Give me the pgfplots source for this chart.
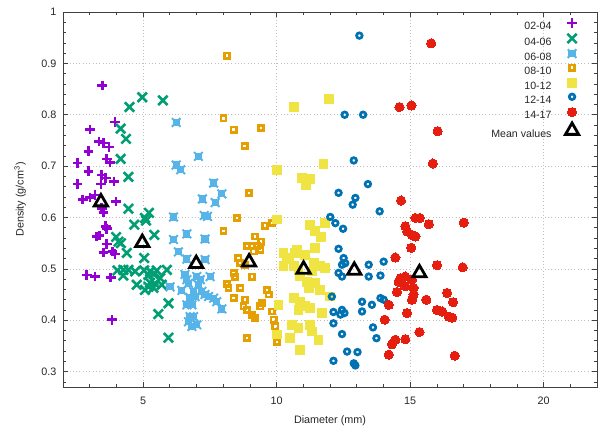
\documentclass[border=0pt]{standalone}
\usepackage{fontspec}
\setmainfont{Liberation Sans}
\usepackage{pgfplots}
\pgfplotsset{compat=1.18}
\usetikzlibrary{calc}
\definecolor{cP}{HTML}{9400D3}
\definecolor{cG}{HTML}{009E73}
\definecolor{cC}{HTML}{56B4E9}
\definecolor{cO}{HTML}{E69F00}
\definecolor{cY}{HTML}{F0E442}
\definecolor{cB}{HTML}{0072B2}
\definecolor{cR}{HTML}{E51E10}
\pgfdeclareplotmark{sqx}{%
  \pgfpathrectangle{\pgfqpoint{-\pgfplotmarksize}{-\pgfplotmarksize}}{\pgfqpoint{2\pgfplotmarksize}{2\pgfplotmarksize}}%
  \pgfusepathqfill
  \pgfpathmoveto{\pgfqpoint{-1.2\pgfplotmarksize}{-1.2\pgfplotmarksize}}%
  \pgfpathlineto{\pgfqpoint{1.2\pgfplotmarksize}{1.2\pgfplotmarksize}}%
  \pgfpathmoveto{\pgfqpoint{-1.2\pgfplotmarksize}{1.2\pgfplotmarksize}}%
  \pgfpathlineto{\pgfqpoint{1.2\pgfplotmarksize}{-1.2\pgfplotmarksize}}%
  \pgfusepathqstroke}
\begin{document}
\fontsize{10.8}{13}\selectfont
\begin{tikzpicture}
\begin{axis}[name=ax, scale only axis, width=534pt, height=375pt,
  xmin=2, xmax=22, ymin=0.27, ymax=1,
  xtick={5,10,15,20}, ytick={0.3,0.4,0.5,0.6,0.7,0.8,0.9,1},
  minor xtick={3,4,6,7,8,9,11,12,13,14,16,17,18,19,21},
  minor ytick={0.28,0.32,0.34,0.36,0.38,0.42,0.44,0.46,0.48,0.52,0.54,0.56,0.58,0.62,0.64,0.66,0.68,0.72,0.74,0.76,0.78,0.82,0.84,0.86,0.88,0.92,0.94,0.96,0.98},
  /pgf/number format/assume math mode=true,
  tick label style={font=\fontsize{10.8}{13}\selectfont, text=black!85},
  xticklabel style={yshift=-6pt},
  yticklabel style={xshift=-2.7pt},
  xlabel={Diameter (mm)}, ylabel={Density (g/cm\textsuperscript{3})},
  label style={font=\fontsize{10.8}{13}\selectfont, text=black!85},
  xlabel style={at={(axis description cs:0.5,-0.0893)}, anchor=center},
  ylabel style={at={(axis description cs:-0.0805,0.5)}, anchor=center},
  axis line style={black!75, line width=0.9pt},
  every tick/.style={black!75, line width=0.6pt},
  major tick length=5pt, minor tick length=3pt,
  grid=major, major grid style={black!25, line width=0.5pt, dash pattern=on 0.8pt off 2.5pt},
  legend plot pos=right, legend cell align=right,
  legend image code/.code={\draw[#1] plot coordinates {(0pt,3.8pt)};},
  legend style={at={(rel axis cs:0.966,0.984)}, anchor=north east, draw=none, fill=none,
    inner sep=0pt, row sep=0pt, column sep=14pt, font=\fontsize{10.6}{13}\selectfont,
    text=black!85, nodes={inner sep=0pt, text height=10pt, text depth=4pt}},
]
\addplot[only marks, mark=+, color=cP, mark options={mark size=4.8pt, line width=2.6pt}] coordinates {
(3.47,0.857) (3.95,0.786) (3.01,0.771) (3.35,0.748) (3.51,0.745) (3.72,0.737) (2.95,0.729)
(2.55,0.706) (3.64,0.714) (3.76,0.707) (2.95,0.690) (3.45,0.683) (3.60,0.677) (2.55,0.665)
(3.42,0.665) (3.91,0.670) (2.74,0.635) (3.01,0.639) (3.20,0.644) (3.99,0.631) (3.45,0.618)
(3.51,0.610) (3.60,0.583) (3.64,0.578) (3.26,0.563) (3.36,0.565) (3.64,0.548) (3.51,0.532)
(3.86,0.534) (3.95,0.529) (2.89,0.488) (3.20,0.485) (3.79,0.483) (3.83,0.401)
};
\addlegendentry{02-04}
\addplot[only marks, mark=x, color=cG, mark options={mark size=6.6pt, line width=2.6pt}] coordinates {
(4.97,0.834) (5.74,0.828) (4.49,0.815) (4.16,0.773) (4.36,0.753) (4.16,0.714) (4.45,0.679)
(4.45,0.617) (5.22,0.609) (5.07,0.599) (5.11,0.594) (4.67,0.586) (5.42,0.566) (3.99,0.562)
(4.08,0.553) (4.17,0.550) (4.39,0.531) (5.04,0.521) (4.04,0.497) (4.26,0.498) (4.45,0.498)
(4.70,0.495) (4.26,0.487) (5.04,0.497) (5.26,0.495) (5.39,0.490) (5.20,0.488) (5.89,0.498)
(5.64,0.482) (4.76,0.469) (5.26,0.473) (5.45,0.471) (5.07,0.459) (5.70,0.469) (5.20,0.465)
(5.39,0.463) (5.95,0.433) (5.57,0.412) (5.95,0.366) (5.51,0.497)
};
\addlegendentry{04-06}
\addplot[only marks, mark=sqx, color=cC, mark options={mark size=3.6pt, line width=2pt}] coordinates {
(6.24,0.785) (6.24,0.702) (6.41,0.693) (7.07,0.719) (7.64,0.667) (7.95,0.646) (7.22,0.636)
(7.70,0.629) (7.29,0.604) (7.41,0.602) (6.14,0.601) (6.64,0.568) (6.14,0.557) (7.32,0.558)
(6.32,0.533) (6.64,0.519) (7.32,0.518) (6.57,0.489) (6.64,0.479) (6.70,0.472) (7.01,0.485)
(7.14,0.479) (7.07,0.469) (7.51,0.485) (6.01,0.465) (6.45,0.458) (6.89,0.456) (6.95,0.446)
(7.32,0.450) (7.45,0.446) (7.64,0.443) (7.76,0.436) (7.95,0.422) (6.64,0.430) (6.83,0.430)
(6.76,0.407) (6.70,0.397) (6.83,0.388) (7.01,0.391) (7.20,0.456) (6.76,0.444) (6.89,0.407)
};
\addlegendentry{06-08}
\addplot[only marks, mark=square, color=cO, mark options={mark size=2.6pt, line width=2.7pt}] coordinates {
(8.14,0.915) (8.01,0.793) (8.39,0.771) (9.42,0.774) (8.80,0.739) (8.97,0.648) (8.51,0.599)
(8.01,0.574) (9.57,0.584) (9.82,0.589) (9.20,0.563) (9.41,0.553) (8.89,0.544) (9.07,0.544)
(9.26,0.544) (9.14,0.534) (9.39,0.537) (8.57,0.521) (8.64,0.511) (8.82,0.508) (8.39,0.492)
(8.45,0.485) (9.07,0.485) (8.14,0.470) (8.20,0.463) (8.64,0.463) (8.39,0.443) (8.82,0.440)
(8.76,0.427) (8.89,0.420) (9.07,0.410) (9.20,0.404) (9.64,0.459) (9.70,0.450) (9.45,0.433)
(9.39,0.427) (9.82,0.417) (9.89,0.401) (9.95,0.388) (10.01,0.358) (8.89,0.365)
};
\addlegendentry{08-10}
\addplot[only marks, mark=square*, color=cY, mark options={mark size=4.4pt, line width=0pt}] coordinates {
(10.64,0.815) (11.95,0.830) (10.01,0.692) (11.76,0.704) (10.95,0.677) (11.26,0.675) (11.11,0.664)
(10.01,0.596) (11.26,0.586) (11.45,0.573) (11.82,0.589) (10.26,0.531) (10.70,0.531) (10.45,0.518)
(10.64,0.505) (10.26,0.505) (11.07,0.527) (11.39,0.511) (11.33,0.495) (11.64,0.505) (11.82,0.502)
(10.89,0.485) (11.14,0.475) (11.45,0.472) (11.20,0.463) (11.64,0.459) (10.64,0.443) (10.89,0.436)
(11.07,0.427) (10.82,0.420) (11.26,0.424) (10.07,0.430) (11.70,0.414) (10.58,0.391) (10.82,0.385)
(11.26,0.391) (11.33,0.378) (10.01,0.372) (10.51,0.365) (11.57,0.362) (10.89,0.342) (12.01,0.446)
(11.45,0.541) (10.39,0.521) (10.76,0.537) (10.82,0.498) (11.67,0.562)
};
\addlegendentry{10-12}
\addplot[only marks, mark=o, color=cB, mark options={mark size=2.8pt, line width=2.7pt}] coordinates {
(13.10,0.954) (12.55,0.800) (13.24,0.800) (12.89,0.711) (13.42,0.665) (12.32,0.648) (12.95,0.638)
(12.85,0.625) (13.86,0.612) (12.01,0.601) (12.20,0.589) (12.49,0.578) (12.32,0.539) (12.51,0.521)
(12.57,0.511) (12.45,0.508) (12.32,0.492) (12.45,0.485) (13.45,0.508) (14.01,0.514) (13.45,0.485)
(13.89,0.487) (12.07,0.446) (13.20,0.436) (13.57,0.430) (13.89,0.443) (14.01,0.440) (12.13,0.416)
(12.45,0.420) (12.54,0.414) (12.39,0.411) (13.20,0.417) (12.13,0.394) (13.61,0.386) (12.45,0.373)
(13.74,0.365) (12.64,0.339) (13.03,0.338) (12.13,0.321) (12.89,0.316) (12.95,0.312)
};
\addlegendentry{12-14}
\addplot[only marks, mark=*, color=cR, mark options={mark size=4.6pt, line width=0pt}] coordinates {
(15.79,0.939) (14.60,0.815) (15.05,0.818) (16.03,0.768) (15.85,0.705) (14.66,0.633) (17.01,0.590)
(15.20,0.599) (15.36,0.599) (15.70,0.587) (14.82,0.583) (14.89,0.573) (15.07,0.566) (15.20,0.563)
(15.04,0.541) (14.45,0.522) (16.01,0.507) (16.97,0.503) (14.64,0.482) (14.82,0.485) (15.07,0.479)
(14.57,0.475) (14.82,0.466) (15.13,0.463) (14.51,0.455) (15.13,0.450) (16.39,0.453) (14.20,0.430)
(15.07,0.440) (15.61,0.440) (16.61,0.435) (16.01,0.420) (16.20,0.417) (14.89,0.414) (16.45,0.407)
(16.58,0.405) (14.05,0.401) (15.35,0.377) (14.45,0.362) (14.82,0.363) (14.32,0.353) (14.20,0.333)
(16.67,0.331)
};
\addlegendentry{14-17}
\addplot[only marks, mark=triangle, color=black, mark options={mark size=7.6pt, line width=2.8pt}] coordinates {
(3.42,0.630) (4.97,0.551) (6.99,0.510) (8.97,0.513) (11.01,0.499) (12.91,0.497) (15.35,0.492)
};
\addlegendentry{Mean values}
\end{axis}
\pgfresetboundingbox
\useasboundingbox ($(ax.south west)+(-63pt,-43pt)$) rectangle ($(ax.north east)+(1pt,12pt)$);
\end{tikzpicture}
\end{document}
